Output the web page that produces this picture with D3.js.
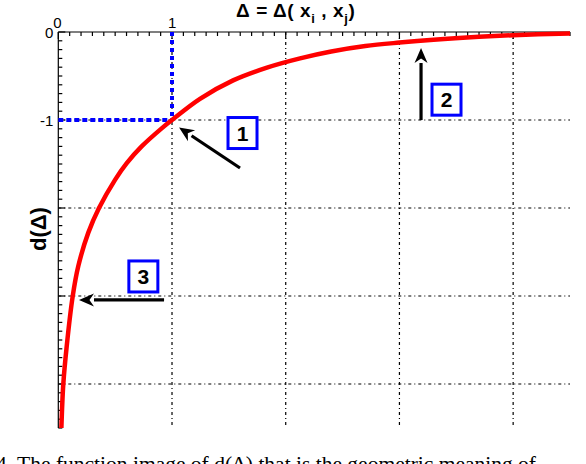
<!DOCTYPE html>
<html><head><meta charset="utf-8">
<script src="https://cdn.jsdelivr.net/npm/d3@7"></script>
<style>body{margin:0;background:#fff;}svg{display:block;}</style>
</head><body>
<script>
// Curve d(Δ)
const deltaVals = [0.027, 0.044, 0.074, 0.127, 0.176, 0.264, 0.358, 0.499, 0.602, 0.733, 0.909, 1.0, 1.246, 1.537, 1.835, 2.126, 2.40, 2.70, 3.0, 3.3, 3.7, 4.0, 4.5];
const dVals = [-4.5, -4.0, -3.57, -3.0, -2.66, -2.28, -2.0, -1.68, -1.49, -1.30, -1.095, -1.0, -0.76, -0.55, -0.405, -0.30, -0.222, -0.16, -0.12, -0.087, -0.054, -0.036, -0.016];
const xTickLabels = ["0", "1"];
const yTickLabels = ["0", "-1"];
const gridX = [1, 2, 3, 4];
const gridY = [-1, -2, -3, -4];
// annotation boxes (label, x, y) and arrows (x1,y1 -> x2,y2) in data units
const boxLabels = ["1", "2", "3"];
const boxX = [1.62, 3.414, 0.748];
const boxY = [-1.148, -0.769, -2.778];
const arrowFrom = [[1.598, -1.545], [3.19, -1.0], [0.93, -3.045]];
const arrowTo = [[1.062, -1.085], [3.19, -0.182], [0.182, -3.045]];
const refPoint = [1, -1];

const W = 586, H = 464;
const svg = d3.select("body").append("svg").attr("width", W).attr("height", H);
const x = d3.scaleLinear().domain([0, 4.5]).range([58.3, 570]);
const y = d3.scaleLinear().domain([0, -4.5]).range([32, 428]);

// grid
const grid = svg.append("g").attr("stroke", "#000").attr("stroke-width", 1.2).attr("stroke-dasharray", "3,3,1,3");
grid.selectAll("line.gx").data(gridX).join("line").attr("class","gx")
  .attr("x1", d => x(d)).attr("x2", d => x(d)).attr("y1", y(0)).attr("y2", y(-4.5));
grid.selectAll("line.gy").data(gridY).join("line").attr("class","gy")
  .attr("y1", d => y(d)).attr("y2", d => y(d)).attr("x1", x(0)).attr("x2", x(4.5));

// axes (ticks inward)
const minorY = d3.range(0, 46).map(i => -i / 10);
const minorX = d3.range(0, 46).map(i => i / 10);
const axG = svg.append("g").attr("stroke", "#000").attr("stroke-width", 1.2);
axG.append("line").attr("x1", x(0)).attr("x2", x(0)).attr("y1", y(0)).attr("y2", y(-4.5));
axG.append("line").attr("x1", x(0)).attr("x2", x(4.5)).attr("y1", y(0)).attr("y2", y(0));
axG.selectAll("line.ty").data(minorY).join("line").attr("class","ty")
  .attr("x1", x(0)).attr("x2", d => x(0) + (Math.abs(d % 1) < 1e-6 ? 7 : 4))
  .attr("y1", d => y(d)).attr("y2", d => y(d));
axG.selectAll("line.tx").data(minorX).join("line").attr("class","tx")
  .attr("y1", y(0)).attr("y2", d => y(0) + (Math.abs(d % 1) < 1e-6 ? 7 : 4))
  .attr("x1", d => x(d)).attr("x2", d => x(d));

// tick labels
const lbl = svg.append("g").attr("font-family", "Liberation Sans, Arial, sans-serif").attr("font-size", 15).attr("fill", "#000");
lbl.selectAll("text.xl").data(xTickLabels).join("text").attr("class","xl")
  .attr("x", (d, i) => x(+d) + (i === 0 ? -5 : -4)).attr("y", 28).text(d => d);
lbl.selectAll("text.yl").data(yTickLabels).join("text").attr("class","yl")
  .attr("x", x(0) - 5).attr("y", d => y(+d) + 6).attr("text-anchor", "end").text(d => d);

// blue reference lines
svg.append("line").attr("x1", x(0)).attr("x2", x(refPoint[0])).attr("y1", y(refPoint[1])).attr("y2", y(refPoint[1]))
  .attr("stroke", "#0000ff").attr("stroke-width", 4).attr("stroke-dasharray", "5,3");
svg.append("line").attr("x1", x(refPoint[0])).attr("x2", x(refPoint[0])).attr("y1", y(0)).attr("y2", y(refPoint[1]))
  .attr("stroke", "#0000ff").attr("stroke-width", 4).attr("stroke-dasharray", "4,4");

// curve
const pts = deltaVals.map((v, i) => [v, dVals[i]]);
svg.append("path").datum(pts)
  .attr("d", d3.line().x(d => x(d[0])).y(d => y(d[1])).curve(d3.curveCatmullRom.alpha(0.5)))
  .attr("fill", "none").attr("stroke", "#ff0000").attr("stroke-width", 4.5);

// arrows
arrowFrom.forEach((f, i) => {
  const t = arrowTo[i];
  const x1 = x(f[0]), y1 = y(f[1]), x2 = x(t[0]), y2 = y(t[1]);
  const ang = Math.atan2(y2 - y1, x2 - x1);
  const hl = 15, hw = 6.5;
  const bx = x2 - hl * Math.cos(ang), by = y2 - hl * Math.sin(ang);
  svg.append("line").attr("x1", x1).attr("y1", y1).attr("x2", bx).attr("y2", by)
    .attr("stroke", "#000").attr("stroke-width", 3.2);
  const px = -Math.sin(ang) * hw, py = Math.cos(ang) * hw;
  svg.append("path").attr("d", `M${x2},${y2}L${bx + px},${by + py}L${bx + hl*0.3*Math.cos(ang)},${by + hl*0.3*Math.sin(ang)}L${bx - px},${by - py}Z`)
    .attr("fill", "#000");
});

// boxes
boxLabels.forEach((l, i) => {
  const cx = x(boxX[i]), cy = y(boxY[i]);
  svg.append("rect").attr("x", cx - 14.5).attr("y", cy - 15.5).attr("width", 29).attr("height", 31)
    .attr("fill", "#fff").attr("stroke", "#0000ff").attr("stroke-width", 3);
  svg.append("text").attr("x", cx).attr("y", cy + 7.5).attr("text-anchor", "middle")
    .attr("font-family", "Liberation Sans, Arial, sans-serif").attr("font-weight", "bold").attr("font-size", 21).text(l);
});

// title
const title = svg.append("text").attr("x", 236).attr("y", 17)
  .attr("font-family", "Liberation Sans, Arial, sans-serif").attr("font-weight", "bold").attr("font-size", 19)
  .attr("letter-spacing", 0.6);
title.append("tspan").text("Δ = Δ( x");
title.append("tspan").attr("font-size", 13).attr("dy", 6).text("i");
title.append("tspan").attr("dy", -6).text(" , x");
title.append("tspan").attr("font-size", 13).attr("dy", 6).text("j");
title.append("tspan").attr("dy", -6).text(")");

// y label
svg.append("text").attr("transform", "translate(46,229) rotate(-90)").attr("text-anchor", "middle")
  .attr("font-family", "Liberation Sans, Arial, sans-serif").attr("font-weight", "bold").attr("font-size", 22).text("d(Δ)");

// caption (cut off at the bottom edge, as in the reference)
svg.append("text").attr("x", -4).attr("y", 471)
  .attr("font-family", "Liberation Serif, Times New Roman, serif").attr("font-size", 21.5)
  .text("4.  The function image of d(Δ) that is the geometric meaning of");
</script>
</body></html>
